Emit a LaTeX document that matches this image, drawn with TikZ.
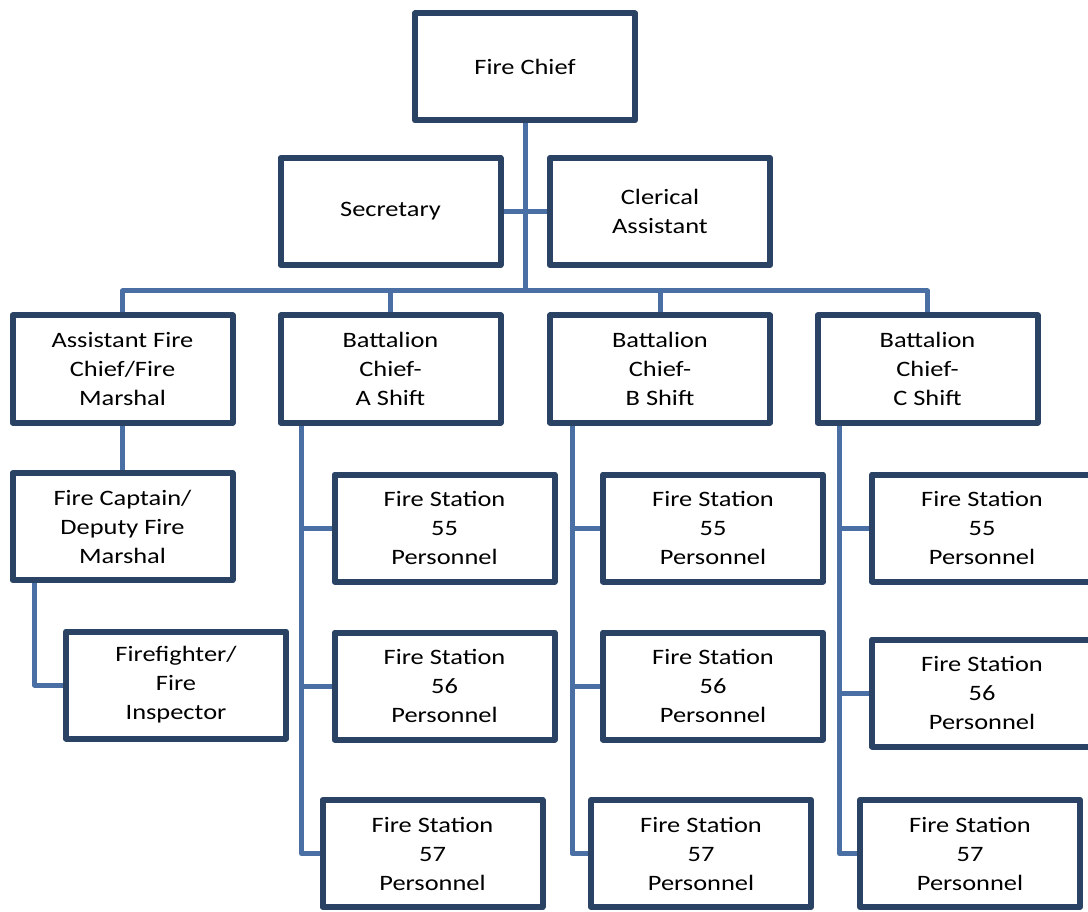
\documentclass[tikz,border=0pt]{standalone}
\usepackage{fontspec}
\setmainfont{Carlito}[FakeStretch=1.2]
\usetikzlibrary{calc}
\definecolor{boxline}{RGB}{42,66,100}
\definecolor{linkline}{RGB}{74,111,164}
\tikzset{
  orgbox/.style={draw=boxline, line width=6pt, line join=round, fill=white,
    minimum width=220pt, minimum height=107pt, inner sep=0pt, align=center,
    font=\fontsize{22}{29}\selectfont},
  link/.style={draw=linkline, line width=5pt, line join=round}
}
\begin{document}
\begin{tikzpicture}[x=1pt,y=-1pt]
\path[use as bounding box, fill=white] (0,0) rectangle (1088,912);
\clip (0,0) rectangle (1088,912);

% top levels
\node[orgbox] (chief) at (525,67) {Fire Chief};
\node[orgbox] (sec)   at (390.5,211.5) {Secretary};
\node[orgbox] (cler)  at (660,211.5) {Clerical\\Assistant};

% second row
\node[orgbox] (afc) at (122.5,369) {Assistant Fire\\Chief/Fire\\Marshal};
\node[orgbox] (bA)  at (390.5,369) {Battalion\\Chief-\\A Shift};
\node[orgbox] (bB)  at (660,369)   {Battalion\\Chief-\\B Shift};
\node[orgbox] (bC)  at (927.5,369) {Battalion\\Chief-\\C Shift};

% fire marshal branch
\node[orgbox] (cap) at (122.5,526.5) {Fire Captain/\\Deputy Fire\\Marshal};
\node[orgbox] (ff)  at (176,685)     {Firefighter/\\Fire\\Inspector};

% stations, A shift
\node[orgbox] (A55) at (444.5,528) {Fire Station\\55\\Personnel};
\node[orgbox] (A56) at (444.5,686) {Fire Station\\56\\Personnel};
\node[orgbox] (A57) at (432.5,853.5) {Fire Station\\57\\Personnel};
% stations, B shift
\node[orgbox] (B55) at (713,528) {Fire Station\\55\\Personnel};
\node[orgbox] (B56) at (713,686) {Fire Station\\56\\Personnel};
\node[orgbox] (B57) at (701,853.5) {Fire Station\\57\\Personnel};
% stations, C shift
\node[orgbox] (C55) at (982,528) {Fire Station\\55\\Personnel};
\node[orgbox] (C56) at (982,693) {Fire Station\\56\\Personnel};
\node[orgbox] (C57) at (970,853.5) {Fire Station\\57\\Personnel};

% connectors
\coordinate (bus) at (525,291);
\draw[link] (chief.south) -- (chief.south |- bus);
\draw[link] (sec.east) -- (cler.west);
\draw[link] (afc.north) |- (bus) -| (bC.north);
\draw[link] (bA.north) -- (bA.north |- bus);
\draw[link] (bB.north) -- (bB.north |- bus);
\draw[link] (afc.south) -- (cap.north);

\coordinate (sM) at ($(cap.south west)+(25,0)$);
\draw[link] (sM) |- (ff.west);

\coordinate (sA) at ($(bA.south west)+(24,0)$);
\draw[link] (sA) |- (A57.west);
\draw[link] (A55.west) -- (A55.west -| sA);
\draw[link] (A56.west) -- (A56.west -| sA);

\coordinate (sB) at ($(bB.south west)+(25,0)$);
\draw[link] (sB) |- (B57.west);
\draw[link] (B55.west) -- (B55.west -| sB);
\draw[link] (B56.west) -- (B56.west -| sB);

\coordinate (sC) at ($(bC.south west)+(25,0)$);
\draw[link] (sC) |- (C57.west);
\draw[link] (C55.west) -- (C55.west -| sC);
\draw[link] (C56.west) -- (C56.west -| sC);
\end{tikzpicture}
\end{document}
